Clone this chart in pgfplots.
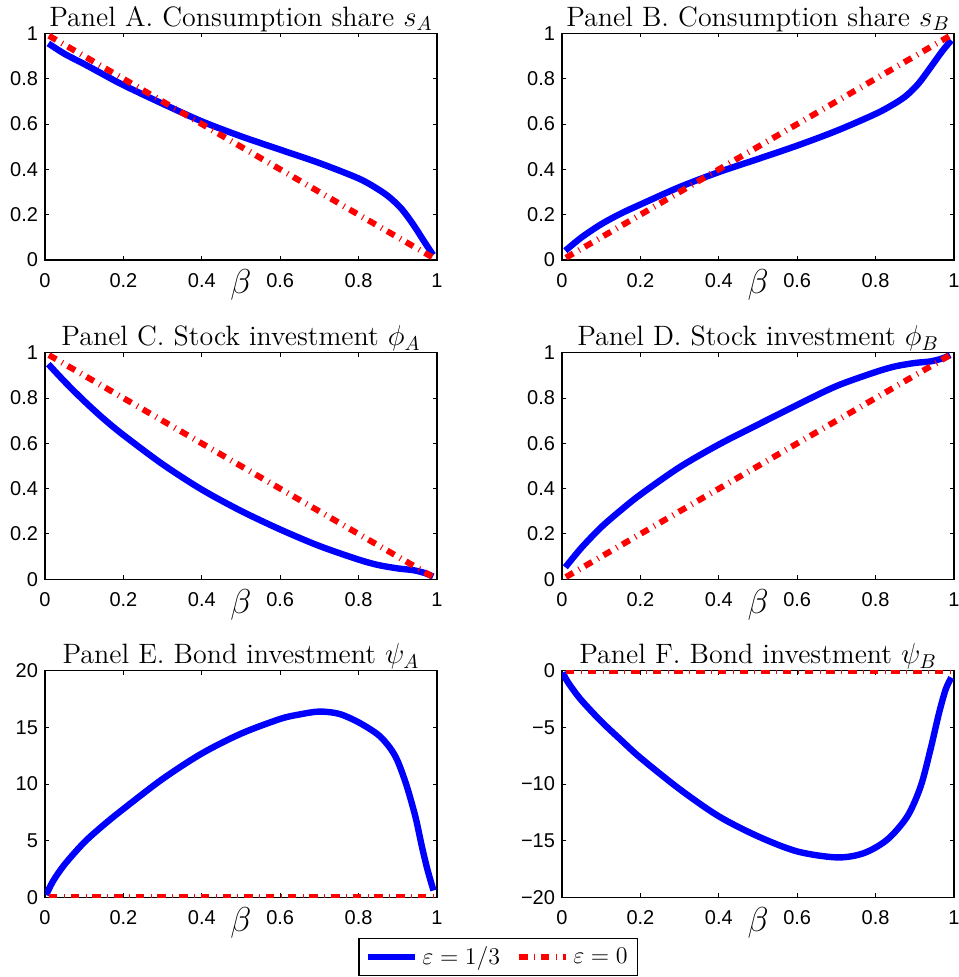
\documentclass[border=0pt]{standalone}
\usepackage{fontspec}
\usepackage{pgfplots}
\pgfplotsset{compat=1.18}
\newfontfamily\ticksf{Liberation Sans}

\pgfplotsset{
 every axis title shift=0pt,
 panel/.style={
   scale only axis, width=196pt, height=113.25pt,
   xmin=0, xmax=1, ymin=0, ymax=1,
   xtick={0,0.2,0.4,0.6,0.8,1}, ytick={0,0.2,0.4,0.6,0.8,1},
   tick align=inside, major tick length=2pt,
   axis line style={line width=0.7pt},
   every tick/.style={black, line width=0.5pt},
   /pgf/number format/assume math mode=true,
   ticklabel style={font=\ticksf\fontsize{10}{12}\selectfont},
   xticklabel style={yshift=-3.2pt},
   title style={font=\fontsize{14}{16}\selectfont, at={(axis description cs:0.5,1)}, anchor=base, yshift=3.5pt, inner sep=0pt},
   xlabel={$\beta$},
   xlabel style={font=\fontsize{16}{18}\selectfont, at={(axis description cs:0.5,0)}, anchor=base, yshift=-17pt, inner sep=0pt},
 },
 bl/.style={color=blue, line width=3.2pt, smooth, tension=0.5},
 rd/.style={color=red, line width=3.0pt, dash pattern=on 4.25pt off 3.2pt on 0.5pt off 2.9pt},
}

\begin{document}
\begin{tikzpicture}
\path[use as bounding box] (0,0) rectangle (479pt,488.5pt);

% Panel A
\begin{axis}[panel, at={(22.5pt,358.5pt)}, anchor=south west, title={Panel A. Consumption share $s_A$}]
\addplot[bl] table {
0.0085 0.956
0.05 0.91
0.1 0.865
0.15 0.818
0.2 0.772
0.3 0.69
0.4 0.612
0.5 0.546
0.6 0.487
0.7 0.428
0.8 0.36
0.85 0.312
0.88 0.275
0.91 0.225
0.94 0.155
0.966 0.085
0.99 0.022
};
\addplot[rd] table {
0.01 0.99
0.99 0.01
};
\end{axis}

% Panel B
\begin{axis}[panel, at={(281pt,358.5pt)}, anchor=south west, title={Panel B. Consumption share $s_B$}]
\addplot[bl] table {
0.0085 0.041
0.05 0.1
0.1 0.158
0.15 0.205
0.2 0.245
0.3 0.322
0.4 0.388
0.5 0.446
0.6 0.505
0.7 0.57
0.8 0.645
0.85 0.692
0.88 0.728
0.91 0.78
0.94 0.85
0.97 0.922
0.993 0.97
};
\addplot[rd] table {
0.01 0.01
0.99 0.99
};
\end{axis}

% Panel C
\begin{axis}[panel, at={(22.5pt,198.85pt)}, anchor=south west, title={Panel C. Stock investment $\phi_A$}]
\addplot[bl] table {
0.0085 0.95
0.05 0.873
0.1 0.787
0.15 0.708
0.2 0.637
0.3 0.508
0.4 0.396
0.5 0.302
0.6 0.22
0.7 0.147
0.8 0.087
0.85 0.063
0.9 0.048
0.94 0.04
0.97 0.027
0.99 0.012
};
\addplot[rd] table {
0.01 0.99
0.99 0.01
};
\end{axis}

% Panel D
\begin{axis}[panel, at={(281pt,198.85pt)}, anchor=south west, title={Panel D. Stock investment $\phi_B$}]
\addplot[bl] table {
0.0085 0.053
0.05 0.14
0.1 0.23
0.15 0.305
0.2 0.374
0.3 0.495
0.4 0.595
0.5 0.683
0.6 0.77
0.7 0.853
0.8 0.915
0.85 0.94
0.9 0.955
0.94 0.962
0.97 0.975
0.99 0.99
};
\addplot[rd] table {
0.01 0.01
0.99 0.99
};
\end{axis}

% Panel E
\begin{axis}[panel, at={(22.5pt,39.85pt)}, anchor=south west, ymin=0, ymax=20, ytick={0,5,10,15,20}, title={Panel E. Bond investment $\psi_A$}]
\addplot[bl] table {
0.003 0.2
0.02 1.4
0.05 2.9
0.1 4.85
0.15 6.4
0.2 7.8
0.3 10.45
0.4 12.7
0.5 14.45
0.6 15.75
0.65 16.15
0.7 16.4
0.75 16.2
0.8 15.45
0.85 14.35
0.88 13.2
0.9 12.0
0.923 9.8
0.945 7.1
0.962 4.4
0.976 2.4
0.991 0.6
};
\addplot[rd] table {
0.01 0
0.99 0
};
\end{axis}

% Panel F
\begin{axis}[panel, at={(281pt,39.85pt)}, anchor=south west, ymin=-20, ymax=0, ytick={-20,-15,-10,-5,0},
  yticklabels={−20,−15,−10,−5,0},
  title={Panel F. Bond investment $\psi_B$},
  legend columns=2,
  legend image code/.code={\draw[#1] (0pt,0pt) -- (23.5pt,0pt);},
  legend style={at={(axis description cs:-0.1625,-0.2636)}, anchor=center, draw=black, line width=0.6pt,
    font=\fontsize{12.5}{14}\selectfont, inner xsep=3pt, inner ysep=2pt,
    /tikz/every even column/.append style={column sep=6pt}}]
\addplot[bl] table {
0.002 -0.15
0.015 -1.0
0.047 -2.5
0.098 -4.4
0.15 -6.1
0.2 -7.68
0.3 -10.45
0.4 -12.85
0.5 -14.62
0.6 -15.95
0.702 -16.48
0.77 -16.1
0.83 -14.9
0.881 -12.85
0.915 -10.2
0.94 -6.94
0.962 -3.7
0.979 -1.62
0.993 -0.6
};
\addlegendentry{$\varepsilon=1/3$}
\addplot[rd] table {
0.01 0
0.99 0
};
\addlegendentry{$\varepsilon=0$}
\end{axis}
\end{tikzpicture}
\end{document}
